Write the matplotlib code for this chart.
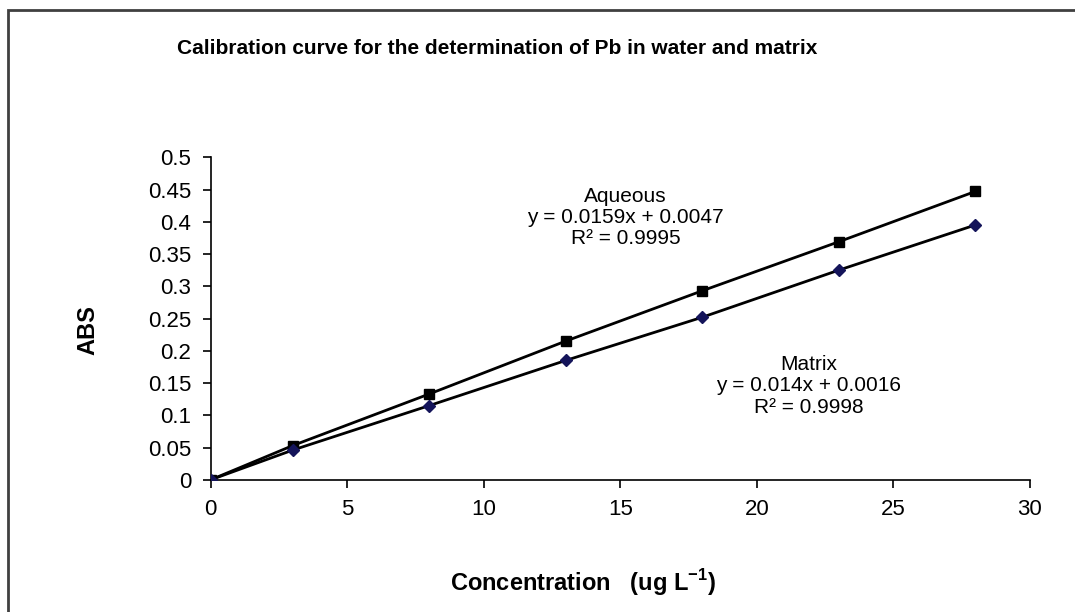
import matplotlib
matplotlib.use('Agg')
import matplotlib.pyplot as plt
from matplotlib.patches import Rectangle

plt.rcParams['font.family'] = ['Liberation Sans', 'DejaVu Sans']

# data
conc = [0, 3, 8, 13, 18, 23, 28]
aqueous = [0, 0.053, 0.133, 0.215, 0.293, 0.369, 0.447]
matrix = [0, 0.046, 0.115, 0.185, 0.252, 0.325, 0.395]
x_ticks = [0, 5, 10, 15, 20, 25, 30]
y_ticks = [0, 0.05, 0.1, 0.15, 0.2, 0.25, 0.3, 0.35, 0.4, 0.45, 0.5]

fig = plt.figure(figsize=(10.75, 6.12), dpi=100)
ax = fig.add_axes([0.196, 0.216, 0.762, 0.527])

# outer frame of the chart area
fig.patches.append(Rectangle((8 / 1075, -0.05), 1.1, 1 - 10 / 612 + 0.05,
                             transform=fig.transFigure, fill=False,
                             edgecolor='#404040', linewidth=2))

ax.plot(conc, aqueous, color='black', lw=2, marker='s', ms=7,
        mfc='black', mec='black', zorder=3)
ax.plot(conc, matrix, color='black', lw=2, marker='D', ms=6,
        mfc='#14145a', mec='#14145a', zorder=3)

ax.set_xlim(0, 30)
ax.set_ylim(0, 0.5)
ax.set_xticks(x_ticks)
ax.set_yticks(y_ticks)
ax.set_yticklabels(['0', '0.05', '0.1', '0.15', '0.2', '0.25', '0.3',
                    '0.35', '0.4', '0.45', '0.5'])
ax.tick_params(direction='out', length=6, width=1.2, labelsize=16, pad=8)
for s in ['top', 'right']:
    ax.spines[s].set_visible(False)
for s in ['left', 'bottom']:
    ax.spines[s].set_linewidth(1.2)

ax.set_xlabel('Concentration   (ug L$^{\\mathregular{-1}}$)', fontsize=17,
              fontweight='bold')
ax.xaxis.set_label_coords(0.454, -0.272)
ax.set_ylabel('ABS', fontsize=17, fontweight='bold', va='center')
ax.yaxis.set_label_coords(-0.150, 0.464)

ax.text(15.2, 0.407, 'Aqueous\ny = 0.0159x + 0.0047\nR² = 0.9995',
        ha='center', va='center', fontsize=15, linespacing=1.15)
ax.text(21.9, 0.1455, 'Matrix\ny = 0.014x + 0.0016\nR² = 0.9998',
        ha='center', va='center', fontsize=15, linespacing=1.15)

fig.text(497 / 1075, 1 - 48 / 612,
         'Calibration curve for the determination of Pb in water and matrix',
         ha='center', va='center', fontsize=15, fontweight='bold')

fig.savefig('out.png', dpi=100)
